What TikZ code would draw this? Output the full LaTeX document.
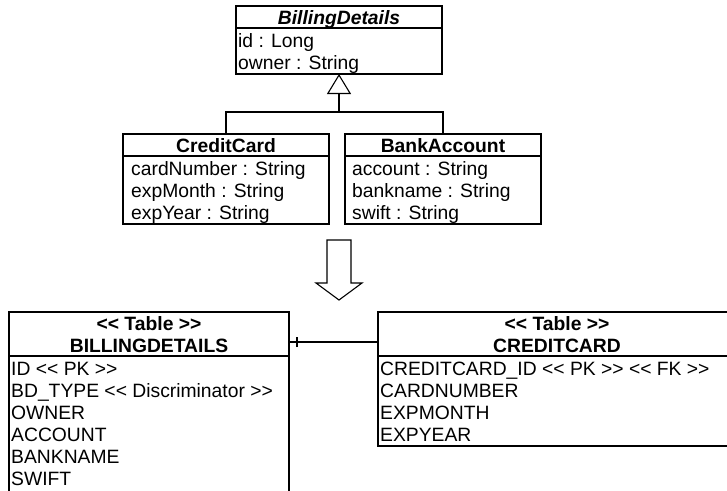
\documentclass[tikz,border=0pt]{standalone}
\usepackage{fontspec}
\newfontfamily\uml{Liberation Sans}
\usetikzlibrary{arrows.meta}
\tikzset{
  box/.style={draw, rectangle, line width=1.1pt, inner sep=0pt, outer sep=0pt, anchor=north west},
  row/.style={anchor=base west, inner sep=0pt, font=\uml\fontsize{19.3}{22}\selectfont},
  ttl/.style={anchor=base, inner sep=0pt, font=\uml\bfseries\fontsize{19.3}{22}\selectfont},
  sepline/.style={line width=1.1pt},
  tsepline/.style={line width=1.8pt},
}
\begin{document}
\begin{tikzpicture}[x=1pt,y=-1pt]
\useasboundingbox (0,0) rectangle (727,490);
% ---- class boxes
\node[box, minimum width=206pt, minimum height=68pt] (bd) at (236,6) {};
\draw[sepline] (236,28) -- (442,28);
\node[ttl] (bdt) at (339,24) {\itshape BillingDetails};
\node[row] (bd1) at (238,47) {id : Long};
\node[row] (bd2) at (238,69) {owner : String};

\node[box, minimum width=206pt, minimum height=90pt] (cc) at (123,134) {};
\draw[sepline] (123,156) -- (329,156);
\node[ttl] (cct) at (226,152) {CreditCard};
\node[row] (cc1) at (131,175) {cardNumber : String};
\node[row] (cc2) at (131,197) {expMonth : String};
\node[row] (cc3) at (131,219) {expYear : String};

\node[box, minimum width=196pt, minimum height=90pt] (ba) at (345,134) {};
\draw[sepline] (345,156) -- (541,156);
\node[ttl] (bat) at (443,152) {BankAccount};
\node[row] (ba1) at (352,175) {account : String};
\node[row] (ba2) at (352,197) {bankname : String};
\node[row] (ba3) at (352,219) {swift : String};

% ---- generalization
\coordinate (gj) at (339,112);
\draw[sepline] (cc.north) |- (gj) -| (ba.north);
\draw[sepline, -{Triangle[open, width=24pt, length=20pt]}] (gj) -- (bd.south);

% ---- big transformation arrow
\draw[line width=1.1pt] (327,240) -- (351,240) -- (351,283) -- (362,283) -- (339,300)
  -- (316,283) -- (327,283) -- cycle;

% ---- tables
\node[box, minimum width=280pt, minimum height=190pt] (tbd) at (9,312) {};
\draw[tsepline] (9,356) -- (289,356);
\node[ttl] (tbd0) at (149,330) {<{}< Table >{}>};
\node[ttl] (tbdt) at (149,352) {BILLINGDETAILS};
\node[row] (tbd1) at (11,375) {ID <{}< PK >{}>};
\node[row] (tbd2) at (11,397) {BD\_TYPE <{}< Discriminator >{}>};
\node[row] (tbd3) at (11,419) {OWNER};
\node[row] (tbd4) at (11,441) {ACCOUNT};
\node[row] (tbd5) at (11,463) {BANKNAME};
\node[row] (tbd6) at (11,485) {SWIFT};

\node[box, minimum width=360pt, minimum height=134pt] (tcc) at (378,312) {};
\draw[tsepline] (378,356) -- (738,356);
\node[ttl] (tcc0) at (557,330) {<{}< Table >{}>};
\node[ttl] (tcct) at (557,352) {CREDITCARD};
\node[row] (tcc1) at (380,375) {CREDITCARD\_ID <{}< PK >{}> <{}< FK >{}>};
\node[row] (tcc2) at (380,397) {CARDNUMBER};
\node[row] (tcc3) at (380,419) {EXPMONTH};
\node[row] (tcc4) at (380,441) {EXPYEAR};

% ---- table relationship
\coordinate (lk) at (0,342);
\coordinate (tk) at (297,342);
\draw[sepline] (tbd.east |- lk) -- (tcc.west |- lk);
\draw[sepline] ([yshift=-5pt]tk) -- ([yshift=5pt]tk);
\end{tikzpicture}
\end{document}
